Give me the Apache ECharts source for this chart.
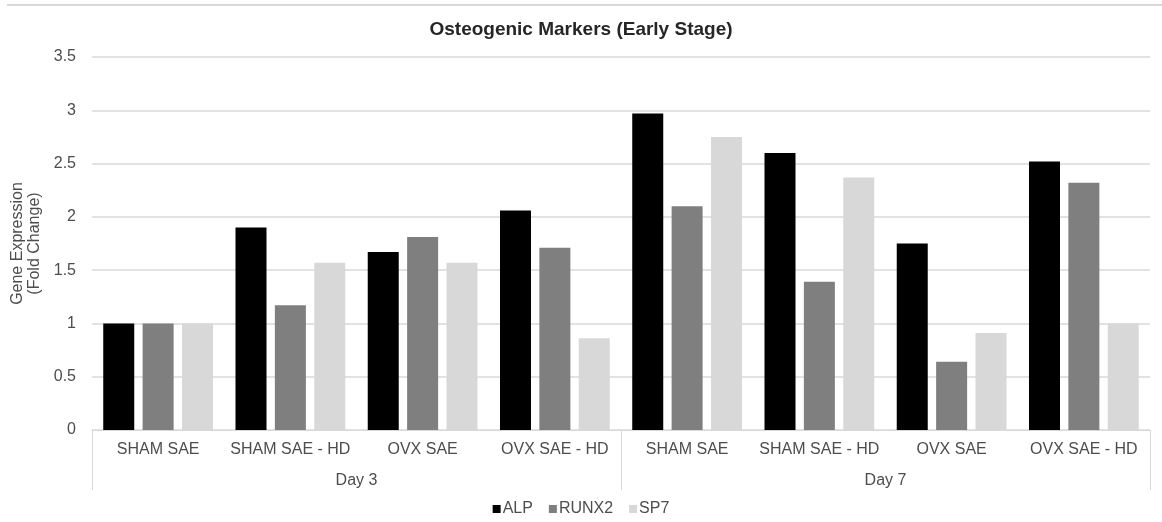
<!DOCTYPE html>
<html>
<head>
<meta charset="utf-8">
<title>Osteogenic Markers (Early Stage)</title>
<script src="https://cdn.jsdelivr.net/npm/echarts@6/dist/echarts.min.js"></script>
<style>
  html, body { margin: 0; padding: 0; background: #ffffff; }
  #chart { width: 1162px; height: 522px; }
</style>
</head>
<body>
<div id="chart"></div>
<script>
// Groups along the x axis (inner level) and the time points (outer level)
const groups = ['SHAM SAE', 'SHAM SAE - HD', 'OVX SAE', 'OVX SAE - HD',
                'SHAM SAE', 'SHAM SAE - HD', 'OVX SAE', 'OVX SAE - HD'];
const days = ['Day 3', 'Day 7'];

// Fold-change values per marker, in the order of `groups`
const alp   = [1.00, 1.90, 1.67, 2.06, 2.97, 2.60, 1.75, 2.52];
const runx2 = [1.00, 1.17, 1.81, 1.71, 2.10, 1.39, 0.64, 2.32];
const sp7   = [1.00, 1.57, 1.57, 0.86, 2.75, 2.37, 0.91, 1.00];

// Y axis scale
const yMin = 0;
const yMax = 3.5;
const yStep = 0.5;

const FONT = 'Liberation Sans, Arial, sans-serif';
const TEXT = '#4d4d4d';
const LINE = '#d9d9d9';

const chart = echarts.init(document.getElementById('chart'), null, { renderer: 'canvas' });

const barStyle = (name, color, data) => ({
  name,
  type: 'bar',
  data,
  xAxisIndex: 0,
  barGap: '27%',
  barCategoryGap: '17%',
  itemStyle: { color },
  emphasis: { disabled: true }
});

chart.setOption({
  animation: false,
  backgroundColor: '#ffffff',
  textStyle: { fontFamily: FONT },
  title: {
    text: 'Osteogenic Markers (Early Stage)',
    left: 'center',
    top: 15,
    textStyle: { fontFamily: FONT, fontSize: 19, fontWeight: 'bold', color: '#262626' }
  },
  graphic: [{
    type: 'line',
    shape: { x1: 7, y1: 5, x2: 1162, y2: 5 },
    style: { stroke: LINE, lineWidth: 2 },
    silent: true
  }],
  legend: {
    bottom: 0,
    left: 'center',
    itemWidth: 8,
    itemHeight: 8,
    itemGap: 16,
    icon: 'rect',
    textStyle: { fontFamily: FONT, fontSize: 16, color: TEXT, padding: [0, 0, 0, -3] },
    data: ['ALP', 'RUNX2', 'SP7']
  },
  grid: { left: 92, right: 12, top: 57, bottom: 92 },
  xAxis: [
    {
      type: 'category',
      data: groups,
      axisLine: { show: true, lineStyle: { color: LINE, width: 1 } },
      axisTick: { show: false },
      axisLabel: { fontFamily: FONT, fontSize: 16, color: TEXT, margin: 12, interval: 0 }
    },
    {
      type: 'category',
      data: days,
      position: 'bottom',
      axisLine: { show: false },
      axisTick: { show: true, length: 60, lineStyle: { color: LINE, width: 1 } },
      axisLabel: { fontFamily: FONT, fontSize: 16, color: TEXT, margin: 43 },
      splitLine: { show: false }
    }
  ],
  yAxis: {
    type: 'value',
    min: yMin,
    max: yMax,
    interval: yStep,
    name: 'Gene Expression\n(Fold Change)',
    nameLocation: 'middle',
    nameGap: 47,
    nameTextStyle: { fontFamily: FONT, fontSize: 16, color: TEXT, lineHeight: 17 },
    axisLine: { show: false },
    axisTick: { show: false },
    axisLabel: { fontFamily: FONT, fontSize: 16, color: TEXT, margin: 16 },
    splitLine: { lineStyle: { color: LINE, width: 1.5 } }
  },
  series: [
    barStyle('ALP', '#000000', alp),
    barStyle('RUNX2', '#7f7f7f', runx2),
    barStyle('SP7', '#d8d8d8', sp7)
  ]
});
</script>
</body>
</html>
